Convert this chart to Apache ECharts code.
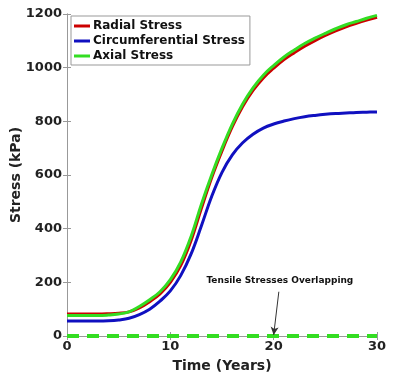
<!DOCTYPE html>
<html>
<head>
<meta charset="utf-8">
<script src="https://cdn.jsdelivr.net/npm/echarts@6/dist/echarts.min.js"></script>
<style>
  html, body { margin: 0; padding: 0; background: #fff; }
  #chart { width: 400px; height: 380px; }
</style>
</head>
<body>
<div id="chart"></div>
<script>
// time in years
const years = [0, 1, 2, 3, 4, 5, 6, 7, 8, 9, 10, 11, 12, 13, 14, 15, 16, 17, 18, 19, 20, 21, 22, 23, 24, 25, 26, 27, 28, 29, 30]

// stresses in kPa
const radialStress = [82, 82, 82, 82, 83, 85, 90, 105, 128, 157, 200, 262, 355, 475, 590, 690, 780, 855, 915, 962, 998, 1030, 1056, 1080, 1101, 1120, 1137, 1152, 1165, 1177, 1188]
const circumferentialStress = [56, 56, 56, 56, 57, 60, 66, 80, 100, 130, 168, 225, 305, 410, 520, 610, 675, 720, 752, 775, 790, 801, 810, 817, 822, 826, 829, 831, 833, 834, 835]
const axialStress = [76, 76, 76, 76, 78, 82, 90, 110, 135, 165, 210, 275, 370, 490, 600, 700, 790, 865, 925, 972, 1008, 1040, 1066, 1090, 1110, 1128, 1145, 1160, 1172, 1184, 1195]
const tensileStress = [0, 0, 0, 0, 0, 0, 0, 0, 0, 0, 0, 0, 0, 0, 0, 0, 0, 0, 0, 0, 0, 0, 0, 0, 0, 0, 0, 0, 0, 0, 0]

const xTicks = [0, 10, 20, 30]
const yTicks = [0, 200, 400, 600, 800, 1000, 1200]

const annotationText = 'Tensile Stresses Overlapping'
const annotationAt = [20.6, 205]
const arrowFrom = [20.5, 165]
const arrowTo = [20, 4]

const pairs = (vals) => years.map((t, i) => [t, vals[i]])

const font = 'DejaVu Sans'
const tickColor = '#999'

const chart = echarts.init(document.getElementById('chart'))

const baseX = {
  type: 'value',
  min: xTicks[0],
  max: xTicks[xTicks.length - 1],
  interval: 10,
  splitLine: {show: false},
  axisLine: {show: true, lineStyle: {color: tickColor, width: 1}},
  axisTick: {show: true, inside: true, length: 4, lineStyle: {color: tickColor}},
}
const baseY = {
  type: 'value',
  min: yTicks[0],
  max: yTicks[yTicks.length - 1],
  interval: 200,
  splitLine: {show: false},
  axisLine: {show: true, lineStyle: {color: tickColor, width: 1}},
  axisTick: {show: true, inside: true, length: 4, lineStyle: {color: tickColor}},
}

const curve = (name, vals, color) => ({
  name,
  type: 'line',
  data: pairs(vals),
  smooth: 0.4,
  showSymbol: false,
  symbol: 'none',
  lineStyle: {color, width: 3},
  itemStyle: {color},
})

chart.setOption({
  animation: false,
  grid: {left: 67, right: 23, top: 14, bottom: 44, outerBoundsMode: 'none'},
  legend: {
    data: ['Radial Stress', 'Circumferential Stress', 'Axial Stress'],
    orient: 'vertical',
    left: 71,
    top: 16,
    padding: [4, 5, 3, 3],
    itemGap: 3,
    itemWidth: 16,
    itemHeight: 3,
    icon: 'rect',
    backgroundColor: '#fff',
    borderColor: '#999',
    borderWidth: 1,
    borderRadius: 0,
    textStyle: {fontFamily: font, fontWeight: 'bold', fontSize: 12, color: '#111', padding: [0, 0, 0, -2]},
  },
  xAxis: [
    {
      ...baseX,
      position: 'bottom',
      name: 'Time (Years)',
      nameLocation: 'middle',
      nameGap: 23,
      nameMoveOverlap: false,
      nameTextStyle: {fontFamily: font, fontWeight: 'bold', fontSize: 14, color: '#222'},
      axisLabel: {fontFamily: font, fontWeight: 'bold', fontSize: 13, color: '#222', margin: 4},
    },
    {...baseX, position: 'top', axisLabel: {show: false}},
  ],
  yAxis: [
    {
      ...baseY,
      position: 'left',
      name: 'Stress (kPa)',
      nameLocation: 'middle',
      nameGap: 44,
      nameMoveOverlap: false,
      nameTextStyle: {fontFamily: font, fontWeight: 'bold', fontSize: 14, color: '#222'},
      axisLabel: {fontFamily: font, fontWeight: 'bold', fontSize: 13, color: '#222', margin: 5, formatter: (v) => String(v)},
    },
    {...baseY, position: 'right', axisLabel: {show: false}},
  ],
  series: [
    curve('Radial Stress', radialStress, '#cc0000'),
    curve('Circumferential Stress', circumferentialStress, '#1010c0'),
    curve('Axial Stress', axialStress, '#33dd22'),
    {
      name: 'Tensile',
      type: 'line',
      data: pairs(tensileStress),
      clip: false,
      showSymbol: false,
      symbol: 'none',
      lineStyle: {color: '#33dd22', width: 4, type: [12, 8]},
      z: 3,
      markLine: {
        silent: true,
        symbol: ['none', 'arrow'],
        symbolSize: [6, 8],
        lineStyle: {color: '#333', width: 1, type: 'solid'},
        label: {show: false},
        data: [[{coord: arrowFrom}, {coord: arrowTo}]],
      },
      markPoint: {
        silent: true,
        symbol: 'circle',
        symbolSize: 0,
        label: {
          show: true,
          position: 'inside',
          formatter: annotationText,
          fontFamily: font,
          fontWeight: 'bold',
          fontSize: 9,
          color: '#111',
        },
        data: [{coord: annotationAt}],
      },
    },
  ],
})
</script>
</body>
</html>
